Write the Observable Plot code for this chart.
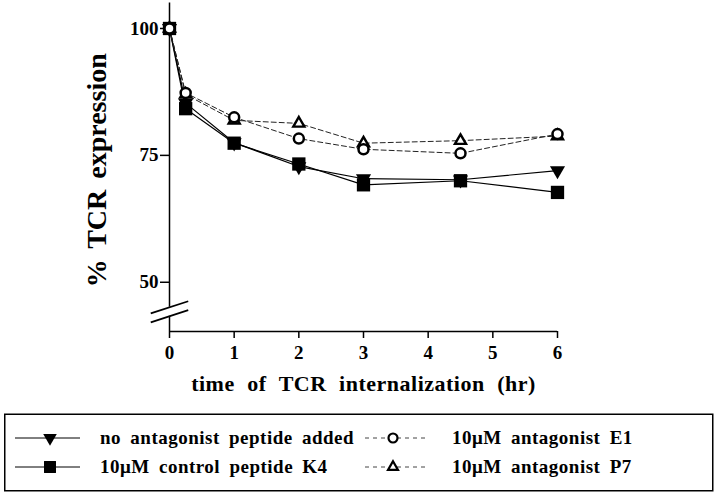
<!DOCTYPE html>
<html><head><meta charset="utf-8">
<script src="https://cdn.jsdelivr.net/npm/d3@7"></script>
<script src="https://cdn.jsdelivr.net/npm/@observablehq/plot@0.6"></script>
<style>
body{margin:0;background:#fff;}
#wrap{position:relative;width:720px;height:495px;background:#fff;overflow:hidden;}
#chart{position:absolute;left:0;top:0;}
#legend{position:absolute;left:0;top:400px;}
#legend text{font-family:"Liberation Serif","Times New Roman",serif;font-weight:bold;font-size:19px;letter-spacing:0.5px;word-spacing:4px;}
</style></head><body><div id="wrap"><div id="chart"></div><div id="legend"></div></div>
<script>
// ---- data ----
const times = [0, 0.25, 1, 2, 3, 4.5, 6];
const noAntagonist = [100, 85.3, 77.5, 72.8, 70.4, 70.2, 72.0];
const controlK4 = [100, 84.2, 77.4, 73.3, 69.2, 70.0, 67.7];
const antagonistE1 = [100, 87.3, 82.5, 78.3, 76.2, 75.4, 79.2];
const antagonistP7 = [100, 87.0, 81.9, 81.3, 77.4, 77.9, 78.8];
const seriesNames = ["no antagonist peptide added", "10\u03bcM control peptide K4", "10\u03bcM antagonist E1", "10\u03bcM antagonist P7"];
const xTicks = [0, 1, 2, 3, 4, 5, 6];
const yTicks = [50, 75, 100];
const xTitle = "time of TCR internalization (hr)";
const yTitle = "% TCR expression";
const yMin = 40.3, yMax = 105;
const breakLo = 43.3, breakHi = 45.06;

const series = [
  {name: seriesNames[0], values: noAntagonist, symbol: "triangle", rotate: 180, fill: "black", stroke: "none", r: 5.6, dash: null, sw: 0},
  {name: seriesNames[1], values: controlK4, symbol: "square", rotate: 0, fill: "black", stroke: "none", r: 7.5, dash: null, sw: 0},
  {name: seriesNames[2], values: antagonistE1, symbol: "circle", rotate: 0, fill: "white", stroke: "black", r: 5, dash: "5,3", sw: 2.5},
  {name: seriesNames[3], values: antagonistP7, symbol: "triangle", rotate: 0, fill: "white", stroke: "black", r: 4.1, dash: "5,3", sw: 2.4}
];
const rows = series.flatMap(s => times.map((t, i) => ({series: s.name, time: t, value: s.values[i]})));
const dotOrder = [1, 0, 3, 2];

const axisSegments = [{y1: yMin, y2: breakLo}, {y1: breakHi, y2: yMax}];
const slashDX = 0.29, slashDY = 1.2;
const slashes = [breakHi, breakLo].map(c => ({x1: -slashDX, y1: c - slashDY, x2: slashDX, y2: c + slashDY}));

const font = '"Liberation Serif","Times New Roman",serif';

const chart = Plot.plot({
  width: 720, height: 400,
  marginLeft: 169, marginRight: 163, marginTop: 2.6, marginBottom: 69,
  x: {domain: [0, 6]},
  y: {domain: [yMin, yMax]},
  style: {fontFamily: font, fontWeight: "bold", fontSize: "19px", color: "black", background: "white", overflow: "visible"},
  marks: [
    Plot.ruleY([yMin], {stroke: "black", strokeWidth: 1.5}),
    Plot.ruleX(axisSegments, {x: 0, y1: "y1", y2: "y2", stroke: "black", strokeWidth: 1.5}),
    Plot.link(slashes, {x1: "x1", y1: "y1", x2: "x2", y2: "y2", stroke: "black", strokeWidth: 1.8}),
    Plot.axisX({ticks: xTicks, tickFormat: d3.format("d"), tickSize: 7, tickPadding: 7, label: null, strokeWidth: 1.5, fontSize: 19}),
    Plot.axisY({ticks: yTicks, tickFormat: d3.format("d"), tickSize: 9, tickPadding: 2, label: null, strokeWidth: 1.5, fontSize: 19}),
    ...series.map(s => Plot.line(rows.filter(d => d.series === s.name), {
      x: "time", y: "value", stroke: s.dash ? "#222" : "black", strokeWidth: s.dash ? 1 : 1.2, strokeDasharray: s.dash
    })),
    ...dotOrder.map(k => {
      const s = series[k];
      return Plot.dot(rows.filter(d => d.series === s.name), {
        x: "time", y: "value", symbol: () => s.symbol, r: s.r, rotate: s.rotate,
        fill: s.fill, stroke: s.stroke, strokeWidth: s.sw
      });
    }),
    Plot.text([xTitle], {frameAnchor: "bottom", textAnchor: "middle", lineAnchor: "bottom", dy: 59, fontSize: 22, fontWeight: "bold"}),
    Plot.text([yTitle], {frameAnchor: "left", textAnchor: "middle", lineAnchor: "bottom", rotate: -90, dx: -64, dy: 3, fontSize: 28, fontWeight: "bold"})
  ]
});
d3.select(chart).selectAll("text").filter(function() { return this.textContent === xTitle; })
  .style("word-spacing", "6.5px").style("letter-spacing", "0.5px");
d3.select(chart).selectAll("text").filter(function() { return this.textContent === yTitle; })
  .style("word-spacing", "4px");
document.getElementById("chart").appendChild(chart);

// ---- legend (below the plot) ----
const legendPos = [
  {col: 0, row: 0}, {col: 0, row: 1}, {col: 1, row: 0}, {col: 1, row: 1}
];
const colX = [{l1: 15, l2: 80, sym: 50, text: 100}, {l1: 365, l2: 428, sym: 393, text: 452}];
const rowY = [38, 67];
const lsvg = d3.select("#legend").append("svg").attr("width", 720).attr("height", 95);
lsvg.append("rect").attr("x", 4.75).attr("y", 14.25).attr("width", 708).attr("height", 76.5)
  .attr("fill", "none").attr("stroke", "black").attr("stroke-width", 1.5);
const symMap = {triangle: d3.symbolTriangle, square: d3.symbolSquare, circle: d3.symbolCircle};
series.forEach((s, i) => {
  const c = colX[legendPos[i].col], y = rowY[legendPos[i].row];
  const g = lsvg.append("g");
  g.append("line").attr("x1", c.l1).attr("x2", c.l2).attr("y1", y).attr("y2", y)
    .attr("stroke", s.dash ? "#444" : "black").attr("stroke-width", 1)
    .attr("stroke-dasharray", s.dash ? "4,4" : null);
  const rr = s.r * 0.9;
  g.append("path").attr("d", d3.symbol(symMap[s.symbol], Math.PI * rr * rr)())
    .attr("transform", `translate(${c.sym},${y}) rotate(${s.rotate})`)
    .attr("fill", s.fill).attr("stroke", s.stroke).attr("stroke-width", s.sw ? 2.2 : 0);
  g.append("text").attr("x", c.text).attr("y", y).attr("dy", "0.34em").text(s.name);
});
</script>
</body></html>
